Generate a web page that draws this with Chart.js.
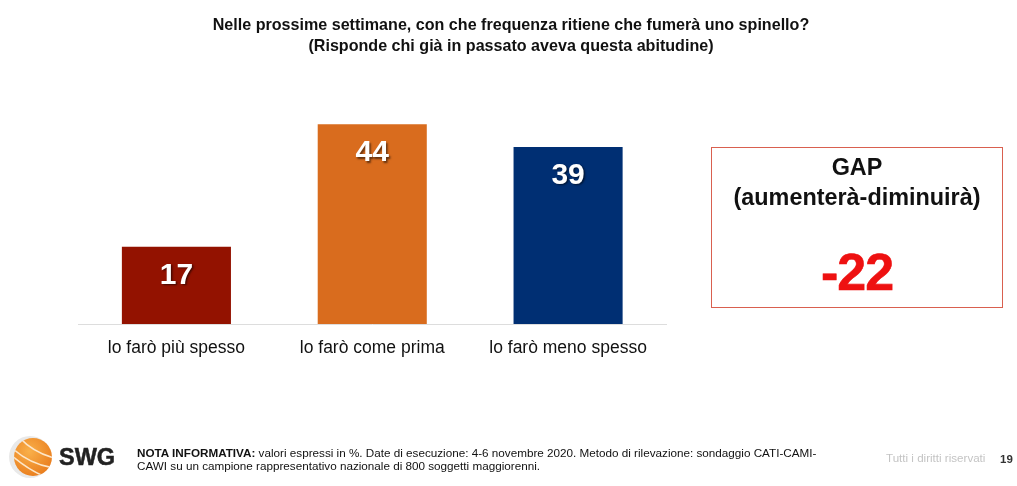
<!DOCTYPE html>
<html>
<head>
<meta charset="utf-8">
<script src="https://cdn.jsdelivr.net/npm/chart.js@4"></script>
<style>
  html, body { margin: 0; padding: 0; background: #fff; }
  body { width: 1017px; height: 486px; position: relative; overflow: hidden; font-family: "Liberation Sans", Arial, sans-serif; color: #000; }
  #wrap { position: absolute; left: 0; top: 0; width: 1017px; height: 486px; }
  .abs { position: absolute; white-space: nowrap; }
  #title { left: 0; width: 1022px; top: 14px; text-align: center; font-weight: bold; font-size: 16.1px; line-height: 21px; color: #111; }
  #gap { left: 711px; top: 147px; width: 290px; height: 159px; border: 1px solid #d9604f; text-align: center; }
  #gap .h { font-weight: bold; font-size: 23.4px; line-height: 30px; margin-top: 4px; color: #111; }
  #gap .v { font-weight: bold; font-size: 52px; line-height: 56px; margin-top: 32px; color: #ee1111; -webkit-text-stroke: 0.6px #ee1111; letter-spacing: -1px; }
  #swg { left: 59px; top: 443px; font-weight: bold; font-size: 23.5px; line-height: 28px; color: #222; -webkit-text-stroke: 0.5px #222; }
  #nota { left: 137px; top: 446px; font-size: 11.7px; line-height: 13px; color: #111; }
  #rights { left: 886px; top: 451px; font-size: 11.6px; color: #c4c4c4; }
  #page { left: 1000px; top: 453px; font-size: 11.5px; font-weight: bold; color: #333; }
</style>
</head>
<body>
<div id="wrap"><canvas id="chart"></canvas></div>

<div id="title" class="abs">Nelle prossime settimane, con che frequenza ritiene che fumerà uno spinello?<br>(Risponde chi già in passato aveva questa abitudine)</div>

<div id="gap" class="abs">
  <div class="h">GAP<br>(aumenterà-diminuirà)</div>
  <div class="v">-22</div>
</div>

<svg class="abs" style="left:8px;top:434px" width="46" height="46" viewBox="0 0 46 46">
  <defs>
    <radialGradient id="ball" cx="0.4" cy="0.35" r="0.75">
      <stop offset="0" stop-color="#f9b04a"/>
      <stop offset="1" stop-color="#e8791a"/>
    </radialGradient>
    <clipPath id="ballClip"><circle cx="25" cy="23" r="19"/></clipPath>
  </defs>
  <circle cx="22" cy="23" r="21" fill="#e9e9e9"/>
  <circle cx="25" cy="23" r="19" fill="url(#ball)"/>
  <g clip-path="url(#ballClip)" fill="none" stroke="#fde6c8" stroke-width="1.6">
    <path d="M2 12 Q20 30 46 34"/>
    <path d="M2 20 Q20 36 40 44"/>
    <path d="M10 2 Q24 18 46 24"/>
  </g>
</svg>
<div id="swg" class="abs">SWG</div>

<div id="nota" class="abs"><b>NOTA INFORMATIVA:</b> valori espressi in %. Date di esecuzione: 4-6 novembre 2020. Metodo di rilevazione: sondaggio CATI-CAMI-<br>CAWI su un campione rappresentativo nazionale di 800 soggetti maggiorenni.</div>
<div id="rights" class="abs">Tutti i diritti riservati</div>
<div id="page" class="abs">19</div>

<script>
const categories = ["lo farò più spesso", "lo farò come prima", "lo farò meno spesso"];
const values = [17, 44, 39];
const barColors = ["#931200", "#d96c1e", "#002f73"];

// numbers inside the bars, with the small shadow of the original
const barLabels = {
  id: "barLabels",
  afterDatasetsDraw(chart) {
    const ctx = chart.ctx;
    const meta = chart.getDatasetMeta(0);
    ctx.save();
    ctx.font = "bold 30px 'Liberation Sans'";
    ctx.textAlign = "center";
    ctx.textBaseline = "middle";
    ctx.fillStyle = "#fff";
    ctx.shadowColor = "rgba(0,0,0,0.55)";
    ctx.shadowOffsetX = 1.5;
    ctx.shadowOffsetY = 1.5;
    ctx.shadowBlur = 2;
    meta.data.forEach((bar, i) => {
      ctx.fillText(values[i], bar.x, bar.y + 28.5);
    });
    ctx.restore();
  }
};

new Chart(document.getElementById("chart"), {
  type: "bar",
  data: {
    labels: categories,
    datasets: [{
      data: values,
      backgroundColor: barColors,
      barPercentage: 0.557,
      categoryPercentage: 1
    }]
  },
  plugins: [barLabels],
  options: {
    responsive: true,
    maintainAspectRatio: false,
    animation: false,
    layout: { padding: { left: 78.5, right: 351, top: 97, bottom: 0 } },
    plugins: {
      legend: { display: false },
      tooltip: { enabled: false }
    },
    scales: {
      x: {
        grid: { display: false, drawTicks: false },
        border: { color: "#dddddd", width: 1 },
        ticks: { color: "#111", font: { family: "Liberation Sans", size: 17.5 }, padding: 14, maxRotation: 0 },
        afterFit(scale) { scale.height = 162; }
      },
      y: {
        min: 0,
        max: 50,
        display: false
      }
    }
  }
});
</script>
</body>
</html>
